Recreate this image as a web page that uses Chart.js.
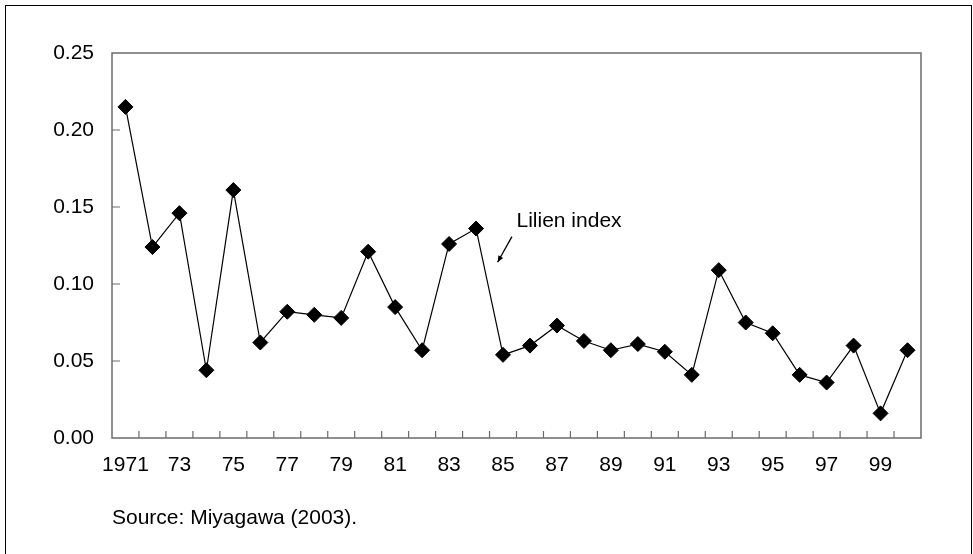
<!DOCTYPE html>
<html>
<head>
<meta charset="utf-8">
<script src="https://cdn.jsdelivr.net/npm/chart.js@4.4.0/dist/chart.umd.min.js"></script>
<style>
    body { margin: 0; background: #fff; }
    #wrap { position: relative; width: 973px; height: 554px; overflow: hidden; }
    #frame { position: absolute; left: 5px; top: 5px; width: 967px; height: 600px; box-sizing: border-box; border: 1px solid #000; }
    #source { position: absolute; left: 112px; top: 504px; line-height: 25px; font-size: 21px; font-family: "Liberation Sans", Arial, sans-serif; color: #000; }
    canvas { position: absolute; left: 0; top: 0; }
</style>
</head>
<body>
<div id="wrap">
    <div id="frame"></div>
    <canvas id="lilienChart" width="973" height="554"></canvas>
    <div id="source">Source: Miyagawa (2003).</div>
</div>
<script>
const years = ['1971', '1972', '1973', '1974', '1975', '1976', '1977', '1978', '1979', '1980',
    '1981', '1982', '1983', '1984', '1985', '1986', '1987', '1988', '1989', '1990',
    '1991', '1992', '1993', '1994', '1995', '1996', '1997', '1998', '1999', '2000'];
const tickLabels = ['1971', '', '73', '', '75', '', '77', '', '79', '',
    '81', '', '83', '', '85', '', '87', '', '89', '',
    '91', '', '93', '', '95', '', '97', '', '99', ''];
const lilien = [0.215, 0.124, 0.146, 0.044, 0.161, 0.062, 0.082, 0.080, 0.078, 0.121,
    0.085, 0.057, 0.126, 0.136, 0.054, 0.060, 0.073, 0.063, 0.057, 0.061,
    0.056, 0.041, 0.109, 0.075, 0.068, 0.041, 0.036, 0.060, 0.016, 0.057];
const yTicks = [0, 0.05, 0.10, 0.15, 0.20, 0.25];

// annotation anchor, in category index / value units
const noteLabel = 'Lilien index';
const noteText = { x: 14.5, y: 0.1407 };
const noteArrow = { from: { x: 14.33, y: 0.1308 }, to: { x: 13.8, y: 0.1141 } };

const font = '"Liberation Sans", Arial, sans-serif';

// frame round the plot, ticks pointing inwards, and the label with its arrow
const framePlugin = {
    id: 'frame',
    afterDatasetsDraw(chart) {
        const { ctx, chartArea: a, scales: { x, y } } = chart;
        ctx.save();
        ctx.strokeStyle = '#6b6b6b';
        ctx.lineWidth = 1.5;
        ctx.strokeRect(a.left, a.top, a.right - a.left, a.bottom - a.top);
        ctx.lineWidth = 1.2;
        ctx.beginPath();
        for (let i = 1; i < years.length; i++) {
            const px = x.getPixelForValue(i - 0.5);
            ctx.moveTo(px, a.bottom);
            ctx.lineTo(px, a.bottom - 7);
        }
        yTicks.slice(1, -1).forEach(v => {
            const py = y.getPixelForValue(v);
            ctx.moveTo(a.left, py);
            ctx.lineTo(a.left + 8, py);
        });
        ctx.stroke();

        // label
        ctx.fillStyle = '#000';
        ctx.font = '21px ' + font;
        ctx.textBaseline = 'middle';
        ctx.textAlign = 'left';
        ctx.fillText(noteLabel, x.getPixelForValue(noteText.x), y.getPixelForValue(noteText.y));

        const x1 = x.getPixelForValue(noteArrow.from.x), y1 = y.getPixelForValue(noteArrow.from.y);
        const x2 = x.getPixelForValue(noteArrow.to.x), y2 = y.getPixelForValue(noteArrow.to.y);
        ctx.strokeStyle = '#000';
        ctx.lineWidth = 1.3;
        ctx.beginPath();
        ctx.moveTo(x1, y1);
        ctx.lineTo(x2, y2);
        ctx.stroke();
        const ang = Math.atan2(y2 - y1, x2 - x1);
        ctx.beginPath();
        ctx.moveTo(x2, y2);
        ctx.lineTo(x2 - 7 * Math.cos(ang - 0.4), y2 - 7 * Math.sin(ang - 0.4));
        ctx.lineTo(x2 - 7 * Math.cos(ang + 0.4), y2 - 7 * Math.sin(ang + 0.4));
        ctx.closePath();
        ctx.fill();
        ctx.restore();
    }
};

new Chart(document.getElementById('lilienChart'), {
    type: 'line',
    data: {
        labels: years,
        datasets: [{
            label: 'Lilien index',
            data: lilien,
            borderColor: '#000',
            borderWidth: 1.2,
            backgroundColor: '#000',
            pointStyle: 'rectRot',
            pointRadius: 7.5,
            pointBorderWidth: 1,
            pointBorderColor: '#000',
            pointBackgroundColor: '#000',
            tension: 0,
            fill: false
        }]
    },
    options: {
        responsive: false,
        animation: false,
        layout: { padding: { top: 53, right: 52, left: 0, bottom: 0 } },
        plugins: {
            legend: { display: false },
            tooltip: { enabled: false }
        },
        scales: {
            x: {
                offset: true,
                grid: { display: false, offset: true, drawTicks: false },
                border: { display: false },
                ticks: {
                    autoSkip: false,
                    maxRotation: 0,
                    padding: 15,
                    color: '#000',
                    font: { size: 21, family: font },
                    callback: (v, i) => tickLabels[i]
                },
                afterFit: s => { s.height = 116; }
            },
            y: {
                min: 0,
                max: 0.25,
                grid: { display: false, drawTicks: false },
                border: { display: false },
                ticks: {
                    stepSize: 0.05,
                    padding: 18,
                    color: '#000',
                    font: { size: 21, family: font },
                    callback: v => v.toFixed(2)
                },
                afterFit: s => { s.width = 112; }
            }
        }
    },
    plugins: [framePlugin]
});
</script>
</body>
</html>
